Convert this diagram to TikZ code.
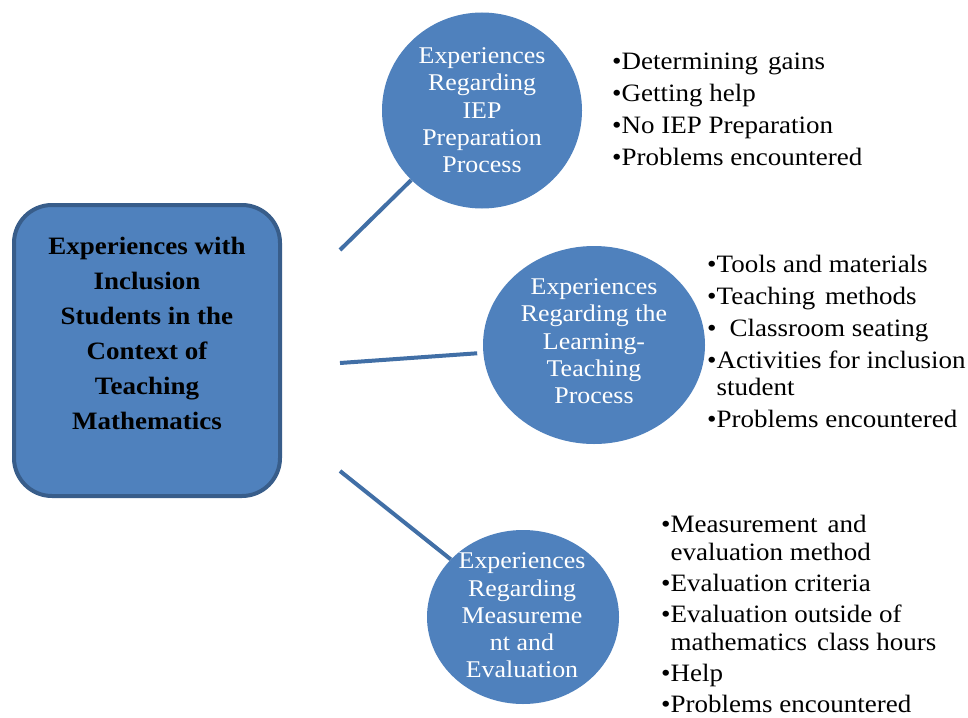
\documentclass[tikz,border=0pt]{standalone}
\usepackage{fontspec}
\setmainfont{Liberation Serif}[FakeStretch=1.08]
\usetikzlibrary{shapes.geometric}
\definecolor{boxblue}{HTML}{4F81BD}
\definecolor{edgeblue}{HTML}{385D8A}
\definecolor{lineblue}{HTML}{416FA6}
\begin{document}
\begin{tikzpicture}[x=1pt,y=-1pt,
  bubble/.style={ellipse, fill=boxblue, draw=none, inner sep=0pt},
  connector/.style={draw=lineblue, line width=4pt},
  bubbletext/.style={text=white, align=center, anchor=north, inner sep=0pt, font=\fontsize{24}{27.3}\selectfont},
  bullets/.style={align=left, anchor=north west, inner sep=0pt, font=\fontsize{25}{27}\selectfont}]
\useasboundingbox (0,0) rectangle (968,717);
\fill[white] (0,0) rectangle (968,717);

\node[draw=edgeblue, line width=4pt, fill=boxblue, rounded corners=38pt,
      minimum width=266pt, minimum height=291pt, inner sep=0pt] (main) at (147,350.5) {};
\node[font=\bfseries\fontsize{25}{35}\selectfont, align=center, anchor=north, inner sep=0pt]
      (maintitle) at (147,237) {Experiences with\\Inclusion\\Students in the\\Context of\\Teaching\\Mathematics};

\node[bubble, minimum width=200pt, minimum height=196pt] (c1) at (482,110.5) {};
\node[bubble, minimum width=222pt, minimum height=198pt] (c2) at (594,345) {};
\node[bubble, minimum width=192pt, minimum height=174pt] (c3) at (523,617) {};

\node[bubbletext] (t1) at (482,47.6) {Experiences\\Regarding\\IEP\\Preparation\\Process};
\node[bubbletext] (t2) at (594,278.6) {Experiences\\Regarding the\\Learning-\\Teaching\\Process};
\node[bubbletext] (t3) at (522,552.6) {Experiences\\Regarding\\Measureme\\nt and\\Evaluation};

\node[bullets] (l1) at (612,53) {•Determining\hspace{10pt}gains\\[5pt]•Getting help\\[5pt]•No IEP Preparation\\[5pt]•Problems encountered};
\node[bullets] (l2) at (707,255) {•Tools and materials\\[5pt]•Teaching\hspace{10pt}methods\\[5pt]•\hspace{13pt}Classroom seating\\[5pt]•Activities for inclusion\\\hphantom{•}student\\[5pt]•Problems encountered};
\node[bullets, font=\fontsize{25}{28}\selectfont] (l3) at (661,515) {•Measurement\hspace{10pt}and\\\hphantom{•}evaluation method\\[3pt]•Evaluation criteria\\[3pt]•Evaluation outside of\\\hphantom{•}mathematics\hspace{10pt}class hours\\[3pt]•Help\\[3pt]•Problems encountered};

\coordinate (s1) at (340,250);
\coordinate (s2) at (340,363);
\coordinate (s3) at (340,471);
\draw[connector] (s1) -- (c1);
\draw[connector, shorten >=6pt] (s2) -- (c2);
\draw[connector] (s3) -- (c3);
\end{tikzpicture}
\end{document}
